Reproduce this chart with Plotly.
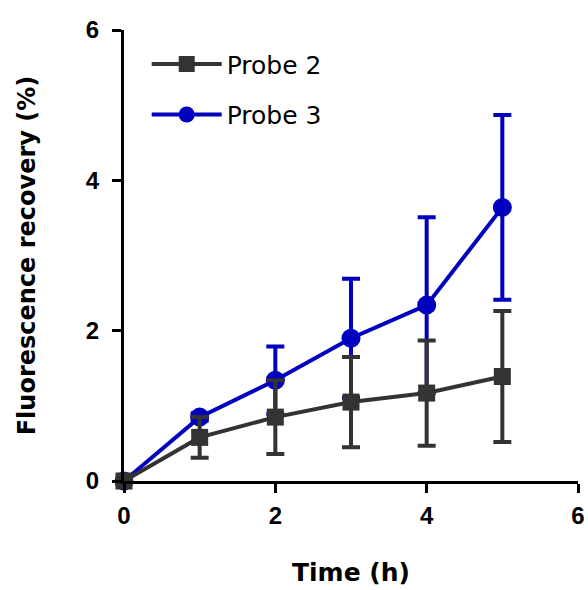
import plotly.graph_objects as go

time_h = [0, 1, 2, 3, 4, 5]
probe2_mean = [0.0, 0.58, 0.85, 1.05, 1.17, 1.39]
probe2_err = [0.0, 0.27, 0.49, 0.60, 0.70, 0.87]
probe3_mean = [0.0, 0.85, 1.34, 1.90, 2.34, 3.64]
probe3_err = [0.0, 0.05, 0.45, 0.79, 1.17, 1.23]

x_ticks = [0, 2, 4, 6]
y_ticks = [0, 2, 4, 6]

gray = "#333333"
blue = "#0000BE"

fig = go.Figure()
fig.add_trace(go.Scatter(
    x=time_h, y=probe3_mean, name="Probe 3", mode="lines+markers",
    line=dict(color=blue, width=4),
    marker=dict(symbol="circle", size=19, color=blue),
    error_y=dict(type="data", array=probe3_err, visible=True, color=blue, thickness=4, width=9),
    cliponaxis=False, legendrank=2, legendgroup="p3",
))
fig.add_trace(go.Scatter(
    x=time_h, y=probe2_mean, name="Probe 2", mode="lines+markers",
    line=dict(color=gray, width=4),
    marker=dict(symbol="square", size=17, color=gray),
    error_y=dict(type="data", array=probe2_err, visible=True, color=gray, thickness=4, width=9),
    cliponaxis=False, legendrank=1, legendgroup="p2",
))

tick_font = dict(family="Liberation Sans, Arial", size=24, color="black")
axis_common = dict(
    showline=True, linecolor="black", linewidth=3, ticks="outside", ticklen=9,
    tickwidth=3, tickcolor="black", showgrid=False, zeroline=False,
    tickfont=tick_font,
)

fig.update_layout(
    width=588, height=590,
    margin=dict(l=124, r=10, t=30, b=109, autoexpand=False),
    plot_bgcolor="white", paper_bgcolor="white",
    xaxis=dict(range=[0, 6], tickvals=x_ticks, ticktext=["<b>%d</b>" % v for v in x_ticks],
               ticklabelstandoff=2,
               title=dict(text="<b>Time (h)</b>", standoff=36,
                          font=dict(family="DejaVu Sans, Liberation Sans", size=25, color="black")),
               **axis_common),
    yaxis=dict(range=[0, 6], tickvals=y_ticks, ticktext=["<b>%d</b>" % v for v in y_ticks],
               ticklabelstandoff=8,
               title=dict(text="<b>Fluorescence recovery (%)</b>", standoff=44,
                          font=dict(family="DejaVu Sans, Liberation Sans", size=24, color="black")),
               **axis_common),
    legend=dict(x=0.05, y=0.975, xanchor="left", yanchor="top", bgcolor="rgba(0,0,0,0)",
                font=dict(family="DejaVu Sans, Liberation Sans", size=25, color="black"),
                traceorder="grouped", tracegroupgap=15, itemwidth=70),
    showlegend=True,
)

fig.write_html("out.html")
